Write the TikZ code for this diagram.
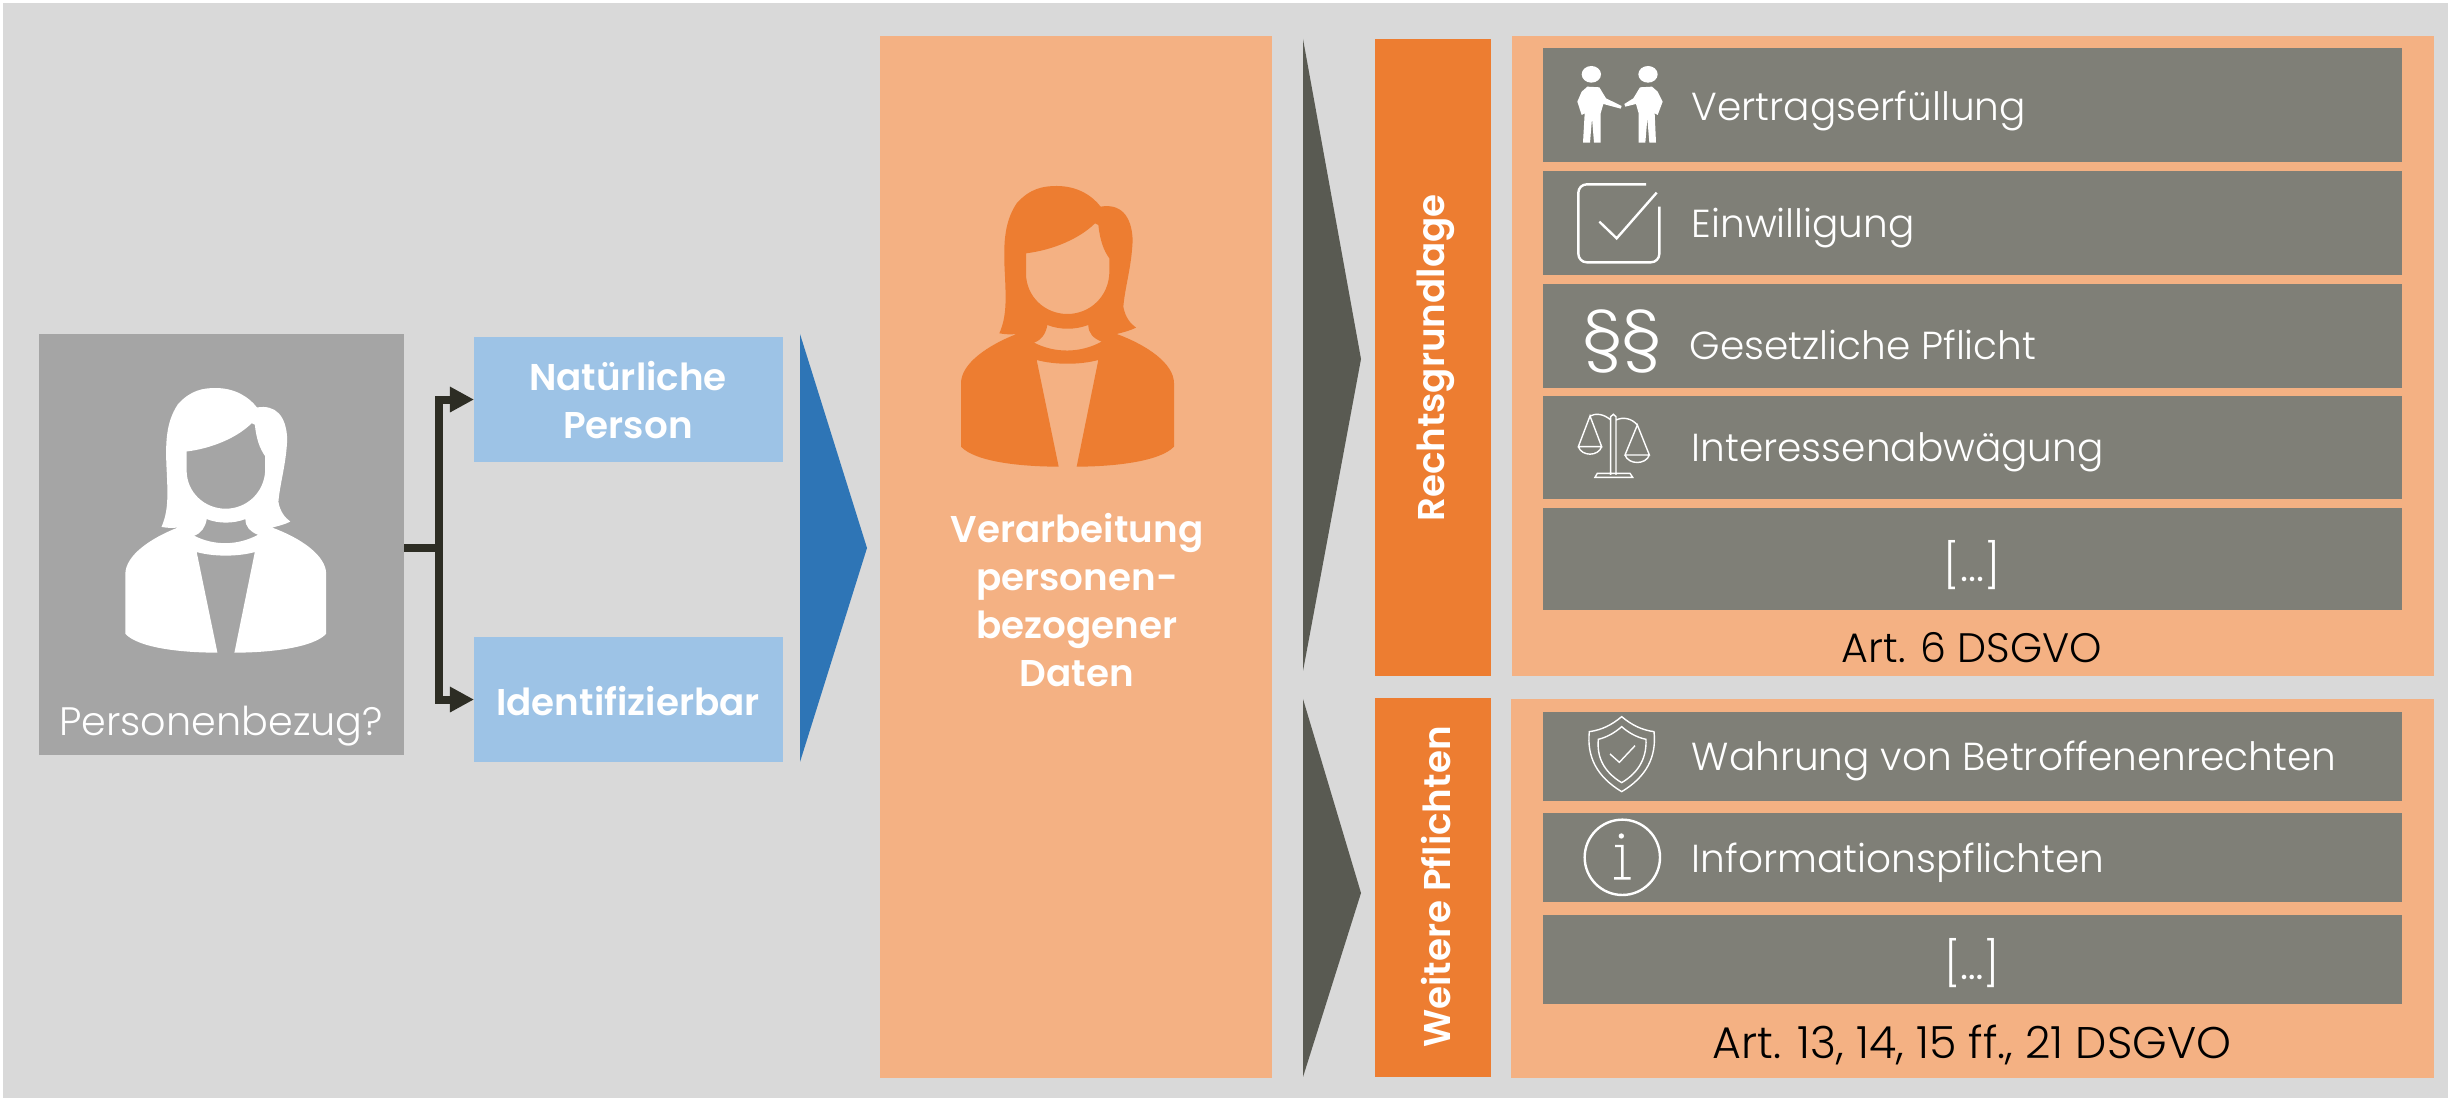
\documentclass[tikz,border=0pt]{standalone}
\usepackage{fontspec}
\setmainfont{Poppins}[UprightFont=* Light,BoldFont=* SemiBold]
\usetikzlibrary{arrows.meta}

\definecolor{bgGray}{HTML}{D9D9D9}
\definecolor{personGray}{HTML}{A5A5A5}
\definecolor{rowGray}{HTML}{7F7F77}
\definecolor{darkGray}{HTML}{595A52}
\definecolor{lineDark}{HTML}{2D2D24}
\definecolor{lightBlue}{HTML}{9DC3E6}
\definecolor{strongBlue}{HTML}{2E75B6}
\definecolor{lightOrange}{HTML}{F4B183}
\definecolor{strongOrange}{HTML}{ED7D31}

\tikzset{
	woman/.pic={
		\path[pic actions, even odd rule, scale=1/3]
			(418,520) .. controls (440,470) and (438,420) .. (435,350)
			.. controls (430,260) and (430,190) .. (470,130)
			.. controls (510,85) and (550,78) .. (590,78)
			.. controls (650,78) and (695,105) .. (722,140)
			.. controls (780,130) and (815,165) .. (818,240)
			.. controls (815,320) and (795,380) .. (790,440)
			.. controls (795,470) and (810,490) .. (828,503)
			.. controls (810,512) and (790,517) .. (770,522)
			.. controls (860,555) and (942,610) .. (942,670)
			-- (942,860) .. controls (900,905) and (760,920) .. (650,920)
			-- (715,600) .. controls (660,615) and (585,615) .. (530,600)
			-- (596,920) .. controls (480,920) and (345,905) .. (303,860)
			-- (303,670) .. controls (303,610) and (385,555) .. (470,522)
			.. controls (450,524) and (435,523) .. (418,520) -- cycle
			(498,280) .. controls (580,270) and (660,235) .. (705,190)
			-- (715,195) .. controls (720,240) and (730,270) .. (748,295)
			-- (748,340) .. controls (745,410) and (690,462) .. (622,462)
			.. controls (555,462) and (498,410) .. (498,340) -- cycle
			(562,495) .. controls (600,510) and (645,510) .. (685,495)
			.. controls (685,520) and (700,535) .. (725,545)
			.. controls (660,580) and (585,580) .. (522,548)
			.. controls (545,540) and (558,520) .. (562,495) -- cycle;
	},
	hands/.pic={
		\fill[white, scale=1/3]
			(274,133) ellipse (29 and 25)
			(444,133) ellipse (29 and 25)
			(262,170) -- (298,172) -- (318,205) -- (365,228) -- (362,236) -- (310,222) -- (302,250)
			-- (302,338) -- (282,338) -- (276,265) -- (270,338) -- (249,338) -- (254,250) -- (245,255)
			-- (232,215) -- (245,185) -- cycle
			(456,170) -- (420,172) -- (400,205) -- (373,222) -- (376,230) -- (408,222) -- (416,250)
			-- (416,338) -- (436,338) -- (442,265) -- (448,338) -- (468,338) -- (464,250) -- (473,255)
			-- (488,215) -- (473,185) -- cycle;
	},
	checkbox/.pic={
		\draw[icon, scale=1/3, rounded corners=2.4pt] (438,463) -- (235,463) -- (235,697) -- (478,697) -- (478,530);
		\draw[icon, scale=1/3] (298,575) -- (350,625) -- (470,488);
	},
	balance/.pic={
		\draw[thinicon, scale=1/3]
			(332,1335) -- (332,1160) -- (340,1153) -- (348,1160) -- (348,1335)
			(285,1342) -- (292,1330) -- (390,1330) -- (398,1342) -- cycle
			(332,1170) .. controls (310,1150) and (285,1150) .. (270,1158)
			(348,1170) .. controls (370,1160) and (395,1165) .. (412,1185)
			(270,1158) -- (235,1250) -- (305,1250) -- cycle
			(235,1250) .. controls (245,1280) and (295,1280) .. (305,1250)
			(412,1185) -- (375,1275) -- (448,1275) -- cycle
			(375,1275) .. controls (385,1305) and (438,1305) .. (448,1275);
	},
	shield/.pic={
		\draw[thinicon, scale=1/3]
			(365,80) .. controls (395,105) and (425,120) .. (462,125)
			.. controls (470,200) and (440,260) .. (365,305)
			.. controls (290,260) and (260,200) .. (268,125)
			.. controls (305,120) and (335,105) .. (365,80) -- cycle
			(365,110) .. controls (385,128) and (410,142) .. (438,148)
			.. controls (440,200) and (420,245) .. (365,278)
			.. controls (310,245) and (290,200) .. (295,148)
			.. controls (320,142) and (345,128) .. (365,110) -- cycle
			(330,192) -- (358,217) -- (405,167);
	},
	infosign/.pic={
		\draw[icon, scale=1/3] (367,502) circle (113)
			(345,468) -- (367,468) -- (367,565) (342,565) -- (392,565);
		\fill[white, scale=1/3] (364,438) circle (8);
	},
	icon/.style = {draw=white, line width=0.024cm},
	thinicon/.style = {draw=white, line width=0.014cm},
	area/.style = {inner sep=0pt, outer sep=0pt, anchor=north west},
	rowbox/.style = {area, fill=rowGray, minimum width=8.58cm},
	rowtext/.style = {anchor=west, inner sep=0pt, text=white, font=\fontsize{11.1}{13}\selectfont},
	midtext/.style = {inner sep=0pt, text=white, font=\fontsize{12.5}{13}\selectfont},
	lawtext/.style = {inner sep=0pt, text=black, font=\fontsize{11.7}{13}\selectfont},
	boldtext/.style = {inner sep=0pt, text=white, align=center, font=\fontsize{10.6}{13.6}\selectfont\bfseries},
	sidetext/.style = {inner sep=0pt, text=white, rotate=90, font=\fontsize{10.6}{13.6}\selectfont\bfseries},
	conn/.style = {draw=lineDark, line width=0.08cm}
}

\begin{document}
\begin{tikzpicture}[x=0.01cm, y=-0.01cm]
	\useasboundingbox (0,0) rectangle (2448,1098);
	\fill[bgGray] (3,3) rectangle (2448,1098);

	% left part
	\node[area, fill=personGray, minimum width=3.65cm, minimum height=4.21cm] (person) at (39,334) {};
	\pic[fill=white, scale=.943] at (30.1,363.5) {woman};
	\node[midtext, font=\fontsize{11.3}{13}\selectfont] (bezug) at (221,726) {Personenbezug?};
	\node[area, fill=lightBlue, minimum width=3.09cm, minimum height=1.25cm] (natural) at (474,337) {};
	\node[area, fill=lightBlue, minimum width=3.09cm, minimum height=1.25cm] (ident) at (474,637) {};
	\node[boldtext] (naturaltext) at (628,400) {Natürliche\\Person};
	\node[boldtext] (identtext) at (628,701) {Identifizierbar};
	\coordinate (junction) at (439,548);
	\draw[conn] (person.east |- junction) -- (junction);
	\draw[conn, -{Triangle[length=0.24cm, width=0.24cm]}] (junction) |- (natural.west);
	\draw[conn, -{Triangle[length=0.24cm, width=0.24cm]}] (junction) |- (ident.west);
	\fill[strongBlue] (800,334) -- (867,548) -- (800,762) -- cycle;

	% middle part
	\node[area, fill=lightOrange, minimum width=3.92cm, minimum height=10.41cm] (processing) at (880,36) {};
	\pic[fill=strongOrange] at (860,160) {woman};
	\node[boldtext] (processingtext) at (1077,600) {Verarbeitung\\personen-\\bezogener\\Daten};
	\fill[darkGray] (1303,39) -- (1361,359) -- (1303,671) -- cycle;
	\fill[darkGray] (1303,699) -- (1361,893) -- (1303,1077) -- cycle;

	% legal basis
	\node[area, fill=strongOrange, minimum width=1.16cm, minimum height=6.37cm] (basis) at (1375,39) {};
	\node[sidetext] (basistext) at (1436,358) {Rechtsgrundlage};
	\node[area, fill=lightOrange, minimum width=9.21cm, minimum height=6.40cm] (basispanel) at (1512,36) {};
	\node[rowbox, minimum height=1.14cm] (contract) at (1543,48) {};
	\node[rowbox, minimum height=1.04cm] (consent) at (1543,171) {};
	\node[rowbox, minimum height=1.04cm] (duty) at (1543,284) {};
	\node[rowbox, minimum height=1.03cm] (interest) at (1543,396) {};
	\node[rowbox, minimum height=1.02cm] (moreone) at (1543,508) {};
	\pic at (1500,30) {hands};
	\pic at (1500,30) {checkbox};
	\pic at (1500,30) {balance};
	\node[midtext, font=\fontsize{20}{20}\selectfont] (paragraphs) at (1622,342) {§\hspace{-.5pt}§};
	\node[rowtext] (contracttext) at (1691,111) {Vertragserfüllung};
	\node[rowtext] (consenttext) at (1691,228) {Einwilligung};
	\node[rowtext] (dutytext) at (1689,345) {Gesetzliche Pflicht};
	\node[rowtext] (interesttext) at (1691,452) {Interessenabwägung};
	\node[midtext] (moreonetext) at (1972,565) {[...]};
	\node[lawtext] (lawone) at (1972,648) {Art. 6 DSGVO};

	% further duties
	\node[area, fill=strongOrange, minimum width=1.16cm, minimum height=3.79cm] (duties) at (1375,698) {};
	\node[sidetext] (dutiestext) at (1436,887) {Weitere Pflichten};
	\node[area, fill=lightOrange, minimum width=9.22cm, minimum height=3.79cm] (dutiespanel) at (1511,699) {};
	\node[rowbox, minimum height=.89cm] (rights) at (1543,712) {};
	\node[rowbox, minimum height=.89cm] (inform) at (1543,813) {};
	\node[rowbox, minimum height=.89cm] (moretwo) at (1543,915) {};
	\pic at (1500,690) {shield};
	\pic at (1500,690) {infosign};
	\node[rowtext] (rightstext) at (1691,761) {Wahrung von Betroffenenrechten};
	\node[rowtext] (informtext) at (1691,863) {Informationspflichten};
	\node[midtext] (moretwotext) at (1972,963) {[…]};
	\node[lawtext, font=\fontsize{12.6}{13}\selectfont] (lawtwo) at (1972,1045) {Art. 13, 14, 15 ff., 21 DSGVO};
\end{tikzpicture}
\end{document}
